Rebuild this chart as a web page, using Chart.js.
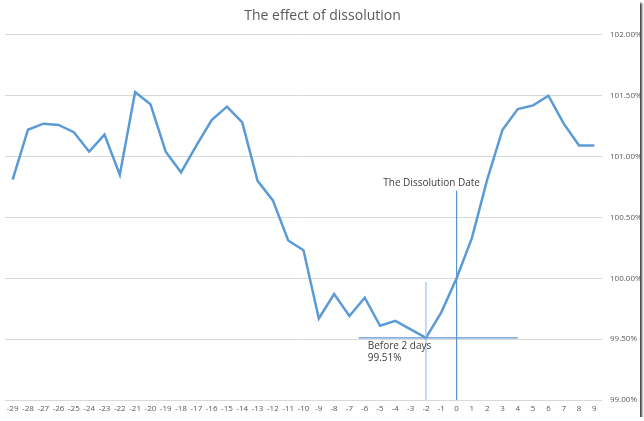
<!DOCTYPE html>
<html>
<head>
<meta charset="utf-8">
<script src="https://cdn.jsdelivr.net/npm/chart.js@4"></script>
<style>
  html, body { margin: 0; padding: 0; background: #fff; }
  #frame {
    position: relative;
    width: 640px;
    height: 417px;
    background: #fff;
    box-shadow: 2px 3px 2px rgba(0, 0, 0, 0.75);
  }
</style>
</head>
<body>
<div id="frame"><canvas id="chart" width="640" height="417"></canvas></div>
<script>
const days = [-29, -28, -27, -26, -25, -24, -23, -22, -21, -20, -19, -18, -17, -16, -15, -14, -13, -12, -11, -10,
  -9, -8, -7, -6, -5, -4, -3, -2, -1, 0, 1, 2, 3, 4, 5, 6, 7, 8, 9];
const ratio = [100.81, 101.22, 101.27, 101.26, 101.20, 101.04, 101.18, 100.85, 101.53, 101.43,
  101.04, 100.87, 101.09, 101.30, 101.41, 101.28, 100.80, 100.64, 100.31, 100.23,
  99.67, 99.87, 99.69, 99.84, 99.61, 99.65, 99.58, 99.51, 99.72, 100.00,
  100.33, 100.81, 101.22, 101.39, 101.42, 101.50, 101.27, 101.09, 101.09];

const dissolutionDay = 0;
const dissolutionTop = 100.72;
const beforeDay = -2;
const beforeTop = 99.97;
const beforeValue = 99.51;
const hLineFrom = -6.4;
const hLineTo = 4;

const annotate = {
  id: "annotate",
  afterDatasetsDraw(chart) {
    const { ctx, scales: { x, y } } = chart;
    const ix = (d) => x.getPixelForValue(days.indexOf(Math.round(d)) + (d - Math.round(d)));
    const bottom = y.getPixelForValue(y.min);
    ctx.save();
    ctx.lineWidth = 1.2;

    // dissolution date marker
    const x0 = ix(dissolutionDay);
    ctx.strokeStyle = "#5b93cf";
    ctx.beginPath();
    ctx.moveTo(x0, y.getPixelForValue(dissolutionTop));
    ctx.lineTo(x0, bottom);
    ctx.stroke();

    // two days before
    const x2 = ix(beforeDay);
    ctx.strokeStyle = "#9dc3e6";
    ctx.beginPath();
    ctx.moveTo(x2, y.getPixelForValue(beforeTop));
    ctx.lineTo(x2, bottom);
    ctx.stroke();

    const yb = y.getPixelForValue(beforeValue);
    ctx.strokeStyle = "#5b93cf";
    ctx.beginPath();
    ctx.moveTo(ix(hLineFrom), yb);
    ctx.lineTo(ix(hLineTo), yb);
    ctx.stroke();

    ctx.fillStyle = "#404040";
    ctx.font = "10px 'Open Sans'";
    ctx.textAlign = "center";
    ctx.textBaseline = "bottom";
    ctx.fillText("The Dissolution Date", x0 - 25, y.getPixelForValue(dissolutionTop) - 2);

    ctx.textAlign = "left";
    ctx.textBaseline = "middle";
    ctx.fillText("Before 2 days", ix(-5.8), yb + 8);
    ctx.fillText(beforeValue.toFixed(2) + "%", ix(-5.8), yb + 20);
    ctx.restore();
  }
};

new Chart(document.getElementById("chart"), {
  type: "line",
  data: {
    labels: days,
    datasets: [
      {
        data: ratio,
        borderColor: "#5b9bd5",
        borderWidth: 2.5,
        pointRadius: 0,
        tension: 0,
        fill: false
      }
    ]
  },
  options: {
    responsive: false,
    animation: false,
    layout: { padding: { left: 5, right: 0, top: 0, bottom: 0 } },
    plugins: {
      legend: { display: false },
      tooltip: { enabled: false },
      title: {
        display: true,
        text: "The effect of dissolution",
        color: "#595959",
        font: { family: "'Open Sans'", size: 14, weight: "normal" },
        padding: { top: 8, bottom: 10 }
      }
    },
    scales: {
      x: {
        offset: true,
        grid: { display: false, drawTicks: false },
        border: { display: false },
        afterFit: (s) => { s.height = 17; },
        ticks: {
          color: "#595959",
          font: { family: "'Open Sans'", size: 8 },
          maxRotation: 0,
          autoSkip: false,
          padding: 4
        }
      },
      y: {
        position: "right",
        min: 99,
        max: 102,
        grid: { color: "#d9d9d9", drawTicks: false },
        border: { display: false },
        afterFit: (s) => { s.width = 38; },
        ticks: {
          stepSize: 0.5,
          color: "#595959",
          font: { family: "'Open Sans'", size: 8 },
          padding: 8,
          callback: (v) => v.toFixed(2) + "%"
        }
      }
    }
  },
  plugins: [annotate]
});
</script>
</body>
</html>
